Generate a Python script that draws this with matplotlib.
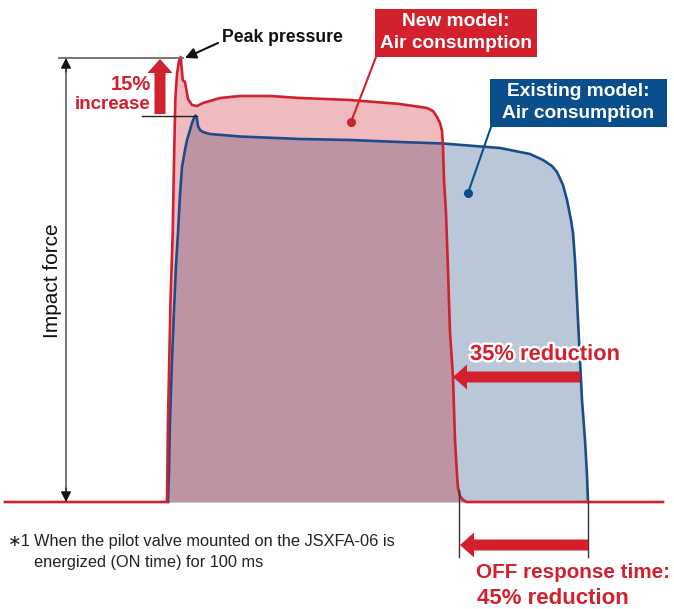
import matplotlib
matplotlib.use("Agg")
import matplotlib.pyplot as plt
from matplotlib.patches import Rectangle, FancyArrow
import matplotlib.patheffects as pe

plt.rcParams['font.family'] = ['Liberation Sans', 'DejaVu Sans']

# ---- data (time in chart units, impact force above baseline) ----
new_time = [5, 167, 168, 170.5, 172.7, 174, 175.3, 177, 179, 180.7, 182.7, 185, 188, 192, 197,
            203, 210, 220, 240, 270, 300, 350, 400, 427, 433, 437, 440, 442, 443, 444, 446,
            448, 450, 453, 455, 457, 458, 460, 463, 467, 663]
new_force = [0, 0, 82, 200, 269, 340, 402, 428, 441, 445, 422, 420, 403, 397, 396,
             399, 401, 404, 406, 406, 404, 402, 398, 394, 391, 385, 379, 371, 355, 322, 289,
             232, 169, 125, 62, 27, 14, 6, 2, 0, 0]

old_time = [168, 169, 170, 172, 174, 176, 178, 180, 182, 185, 187, 190, 192, 194, 195.5,
            197, 198, 200, 203, 210, 240, 300, 350, 400, 443, 500, 530, 543, 552, 557,
            563, 567, 571, 573, 575, 577, 580, 582, 585, 587, 588]
old_force = [0, 32, 82, 142, 192, 237, 269, 307, 335, 352, 362, 372, 379, 384, 386.5,
             383, 376, 372, 370, 368, 365.5, 363, 362, 360, 358.5, 354, 348, 342, 336, 330,
             317, 302, 282, 269, 242, 202, 142, 102, 62, 27, 0]

peak_new = 444          # peak pressure of new model
peak_old = 386          # peak of existing model (15% lower)

RED = '#d2202c'
BLUE = '#1d4b8c'
BLUE_FILL = '#b9c7d8'
BOX_BLUE = '#0a4f8c'

BASE = 502  # pixel row of the baseline
def Y(ypx):
    return BASE - ypx

fig = plt.figure(figsize=(6.74, 6.09), dpi=100)
ax = fig.add_axes([0, 0, 1, 1])
ax.set_xlim(0, 674)
ax.set_ylim(BASE - 609, BASE)
ax.axis('off')

# fills
ax.fill_between(old_time, old_force, 0, color=BLUE_FILL, lw=0, zorder=1)
ax.fill_between(new_time, new_force, 0, color='#cc1f2e', alpha=0.3, lw=0, zorder=2)
# lines
ax.plot(old_time, old_force, color=BLUE, lw=1.9, solid_joinstyle='round', zorder=3)
ax.plot(new_time, new_force, color=RED, lw=1.9, solid_joinstyle='round', zorder=4)

# dimension lines
ax.plot([59, 183], [peak_new + 0.5, peak_new + 0.5], color='#777777', lw=1.4, zorder=5)
ax.plot([142, 197], [peak_old, peak_old], color='#222222', lw=1.0, zorder=5)
ax.plot([66, 66], [8, peak_new - 8], color='#777777', lw=1.4, zorder=5)
ax.annotate('', xy=(66, peak_new), xytext=(66, peak_new - 14),
            arrowprops=dict(arrowstyle='-|>', color='#111111', lw=0.8,
                            mutation_scale=16, shrinkA=0, shrinkB=0), zorder=5)
ax.annotate('', xy=(66, 0), xytext=(66, 14),
            arrowprops=dict(arrowstyle='-|>', color='#111111', lw=0.8,
                            mutation_scale=16, shrinkA=0, shrinkB=0), zorder=5)

ax.text(52, Y(281), 'Impact force', rotation=90, ha='center', va='center',
        fontsize=15, color='#111111')

# 15% increase
ax.add_patch(FancyArrow(160, Y(114), 0, Y(59) - Y(114), width=11, head_width=25,
                        head_length=14, length_includes_head=True, color=RED, lw=0, zorder=6))
ax.text(151, Y(90), '15%', ha='right', va='baseline', fontsize=14.5, fontweight='bold', color=RED)
ax.text(151, Y(109), 'increase', ha='right', va='baseline', fontsize=13.5,
        fontweight='bold', color=RED)

# Peak pressure
ax.text(222, Y(42), 'Peak pressure', ha='left', va='baseline', fontsize=12.7,
        fontweight='bold', color='#111111')
ax.annotate('', xy=(185, Y(58)), xytext=(218, Y(43)),
            arrowprops=dict(arrowstyle='-|>', color='#111111', lw=1.5,
                            mutation_scale=16, shrinkA=0, shrinkB=0))

# New model box
ax.add_patch(Rectangle((375, Y(57)), 162, 48, color=RED, lw=0, zorder=7))
ax.text(456, Y(22), 'New model:', ha='center', va='center', fontsize=13.8,
        fontweight='bold', color='white', zorder=8)
ax.text(456, Y(44), 'Air consumption', ha='center', va='center', fontsize=13.8,
        fontweight='bold', color='white', zorder=8)
ax.plot([376, 351], [Y(57), Y(122)], color=RED, lw=1.5, zorder=7)
ax.plot([351], [Y(122)], 'o', color=RED, ms=5.5, zorder=7)

# Existing model box
ax.add_patch(Rectangle((490, Y(127)), 177, 48, color=BOX_BLUE, lw=0, zorder=7))
ax.text(578.5, Y(92), 'Existing model:', ha='center', va='center', fontsize=13.8,
        fontweight='bold', color='white', zorder=8)
ax.text(578.5, Y(114), 'Air consumption', ha='center', va='center', fontsize=13.8,
        fontweight='bold', color='white', zorder=8)
ax.plot([491, 468], [Y(127), Y(193)], color=BOX_BLUE, lw=1.5, zorder=7)
ax.plot([468], [Y(193)], 'o', color=BOX_BLUE, ms=5.5, zorder=7)

# 35% reduction
t = ax.text(470, Y(360), '35% reduction', ha='left', va='baseline', fontsize=15.8,
            fontweight='bold', color=RED, zorder=9)
t.set_path_effects([pe.withStroke(linewidth=3.5, foreground='white')])
ax.add_patch(FancyArrow(580, Y(377), 453 - 580, 0, width=11, head_width=25,
                        head_length=14, length_includes_head=True, color=RED, lw=0, zorder=9))

# OFF response time
ax.plot([459, 459], [Y(490), Y(557)], color='#333333', lw=1.0, zorder=5)
ax.plot([588, 588], [Y(503), Y(557)], color='#333333', lw=1.0, zorder=5)
ax.add_patch(FancyArrow(588, Y(545), 460 - 588, 0, width=11, head_width=25,
                        head_length=14, length_includes_head=True, color=RED, lw=0, zorder=9))
ax.text(476, Y(578), 'OFF response time:', ha='left', va='baseline', fontsize=14.9,
        fontweight='bold', color=RED)
ax.text(477, Y(604), '45% reduction', ha='left', va='baseline', fontsize=16,
        fontweight='bold', color=RED)

# footnote
ax.text(8, Y(546), '\u22171', ha='left', va='baseline', fontsize=11.8, color='#222222')
ax.text(34, Y(546), 'When the pilot valve mounted on the JSXFA-06 is', ha='left',
        va='baseline', fontsize=11.8, color='#222222')
ax.text(34, Y(567), 'energized (ON time) for 100 ms', ha='left', va='baseline',
        fontsize=11.8, color='#222222')

fig.savefig('out.png', dpi=100)
